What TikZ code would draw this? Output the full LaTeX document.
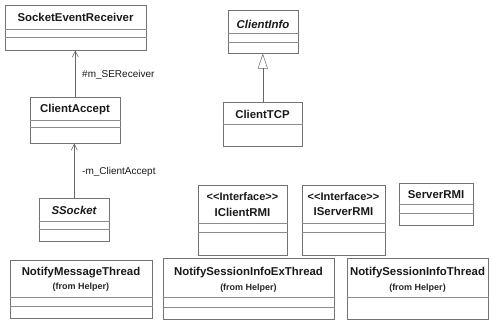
\documentclass[tikz,border=0pt]{standalone}
\usepackage{fontspec}
\setmainfont{Liberation Sans}
\usetikzlibrary{arrows.meta}
\begin{document}
\begin{tikzpicture}[x=1pt,y=-1pt,
  box/.style={draw=black!55,line width=0.6pt,rectangle,inner sep=0pt,anchor=north west},
  sep/.style={draw=black!45,line width=0.5pt},
  cname/.style={font=\fontsize{11.4}{13}\selectfont\bfseries,text=black!90,inner sep=0pt},
  aname/.style={font=\fontsize{11.4}{13}\selectfont\bfseries\itshape,text=black!90,inner sep=0pt},
  stereo/.style={font=\fontsize{11}{13}\selectfont\bfseries,text=black!90,inner sep=0pt},
  pkg/.style={font=\fontsize{9}{10}\selectfont\bfseries,text=black!85,inner sep=0pt},
  role/.style={font=\fontsize{10}{12}\selectfont,text=black!90,inner sep=0pt,anchor=west},
  assoc/.style={draw=black!60,line width=0.5pt,-{Straight Barb[length=6pt,width=6pt]}},
  gener/.style={draw=black!60,line width=0.5pt,-{Triangle[open,length=15pt,width=10pt]}}]
\useasboundingbox (0,0) rectangle (492,320);

% SocketEventReceiver
\node[box,minimum width=141pt,minimum height=45pt] (ser) at (5,5) {};
\node[cname] (serN) at (75.5,17) {SocketEventReceiver};
\draw[sep] (ser.west |- 0,29) -- (ser.east |- 0,29);
\draw[sep] (ser.west |- 0,37) -- (ser.east |- 0,37);

% ClientInfo (abstract)
\node[box,minimum width=70pt,minimum height=43pt] (cinfo) at (228,10) {};
\node[aname] (cinfoN) at (263,24) {ClientInfo};
\draw[sep] (cinfo.west |- 0,33) -- (cinfo.east |- 0,33);
\draw[sep] (cinfo.west |- 0,42) -- (cinfo.east |- 0,42);

% ClientAccept
\node[box,minimum width=90pt,minimum height=46pt] (cacc) at (30,97) {};
\node[cname] (caccN) at (75,110) {ClientAccept};
\draw[sep] (cacc.west |- 0,120) -- (cacc.east |- 0,120);
\draw[sep] (cacc.west |- 0,127) -- (cacc.east |- 0,127);

% ClientTCP
\node[box,minimum width=79pt,minimum height=44pt] (ctcp) at (223,102) {};
\node[cname] (ctcpN) at (262.5,114) {ClientTCP};
\draw[sep] (ctcp.west |- 0,124) -- (ctcp.east |- 0,124);

% SSocket (abstract)
\node[box,minimum width=70pt,minimum height=43pt] (ssock) at (39,198) {};
\node[aname] (ssockN) at (74,210) {SSocket};
\draw[sep] (ssock.west |- 0,221) -- (ssock.east |- 0,221);
\draw[sep] (ssock.west |- 0,229) -- (ssock.east |- 0,229);

% IClientRMI
\node[box,minimum width=89pt,minimum height=70pt] (icli) at (198,185) {};
\node[stereo] (icliS) at (242.5,197) {{<}{<}Interface{>}{>}};
\node[cname] (icliN) at (242.5,212) {IClientRMI};
\draw[sep] (icli.west |- 0,223) -- (icli.east |- 0,223);
\draw[sep] (icli.west |- 0,232) -- (icli.east |- 0,232);

% IServerRMI
\node[box,minimum width=83pt,minimum height=70pt] (isrv) at (302,185) {};
\node[stereo] (isrvS) at (343.5,197) {{<}{<}Interface{>}{>}};
\node[cname] (isrvN) at (343.5,212) {IServerRMI};
\draw[sep] (isrv.west |- 0,223) -- (isrv.east |- 0,223);
\draw[sep] (isrv.west |- 0,232) -- (isrv.east |- 0,232);

% ServerRMI
\node[box,minimum width=74pt,minimum height=42pt] (srmi) at (399,183) {};
\node[cname] (srmiN) at (436,195) {ServerRMI};
\draw[sep] (srmi.west |- 0,204) -- (srmi.east |- 0,204);
\draw[sep] (srmi.west |- 0,213) -- (srmi.east |- 0,213);

% NotifyMessageThread
\node[box,minimum width=142pt,minimum height=58pt] (nmt) at (10,260) {};
\node[cname] (nmtN) at (81,273) {NotifyMessageThread};
\node[pkg] (nmtP) at (81,287) {(from Helper)};
\draw[sep] (nmt.west |- 0,297) -- (nmt.east |- 0,297);
\draw[sep] (nmt.west |- 0,306) -- (nmt.east |- 0,306);

% NotifySessionInfoExThread
\node[box,minimum width=171pt,minimum height=61pt] (nsix) at (163,258) {};
\node[cname] (nsixN) at (248.5,273) {NotifySessionInfoExThread};
\node[pkg] (nsixP) at (248.5,288) {(from Helper)};
\draw[sep] (nsix.west |- 0,297) -- (nsix.east |- 0,297);
\draw[sep] (nsix.west |- 0,307) -- (nsix.east |- 0,307);

% NotifySessionInfoThread
\node[box,minimum width=141pt,minimum height=61pt] (nsi) at (347,258) {};
\node[cname] (nsiN) at (417.5,273) {NotifySessionInfoThread};
\node[pkg] (nsiP) at (417.5,288) {(from Helper)};
\draw[sep] (nsi.west |- 0,297) -- (nsi.east |- 0,297);

% associations and generalization
\draw[assoc] (cacc.north) -- (cacc.north |- ser.south);
\node[role] (r1) at (82,75) {\#m\_SEReceiver};
\draw[assoc] (ssock.north) -- (ssock.north |- cacc.south);
\node[role] (r2) at (82,172) {-m\_ClientAccept};
\draw[gener] (ctcp.north) -- (ctcp.north |- cinfo.south);
\end{tikzpicture}
\end{document}
